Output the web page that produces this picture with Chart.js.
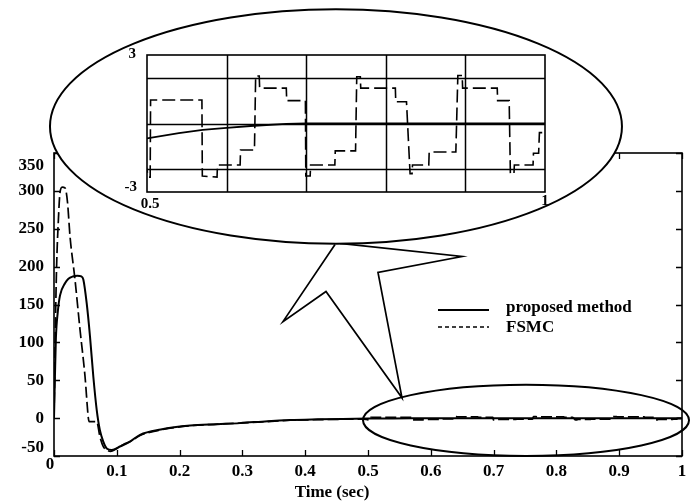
<!DOCTYPE html>
<html>
<head>
<meta charset="utf-8">
<script src="https://cdn.jsdelivr.net/npm/chart.js@4/dist/chart.umd.min.js"></script>
<style>
  html, body { margin: 0; padding: 0; background: #fff; }
  #wrap { position: relative; width: 696px; height: 501px; overflow: hidden; }
  #main { position: absolute; left: 0; top: 0; }
  #zoom { position: absolute; left: 110px; top: 35px; }
</style>
</head>
<body>
<div id="wrap">
  <canvas id="main" width="696" height="501"></canvas>
  <canvas id="zoom" width="450" height="185"></canvas>
</div>
<script>
// ---- series: time (s) and controller output ----
const timeProposed = [0, 0.0015, 0.003, 0.006, 0.0096, 0.0175, 0.023, 0.03, 0.037, 0.0435, 0.0467,
  0.052, 0.0573, 0.0626, 0.068, 0.073, 0.0785, 0.084, 0.092, 0.105, 0.121,
  0.137, 0.17, 0.217, 0.26, 0.296, 0.34, 0.376, 0.42, 0.46, 0.5,
  0.54, 0.57, 0.6, 0.63, 0.675, 0.7, 0.8, 0.9, 1.0];
const proposed = [0, 55, 105, 140, 162, 178, 184, 187, 188, 187, 183,
  152, 108, 55, 11, -15.5, -31, -40, -42, -37.5, -31,
  -22, -15, -9.8, -8, -6.6, -4, -2.5, -1.6, -1.0, -0.65,
  -0.42, -0.28, -0.19, -0.11, -0.02, 0, 0, 0, 0];

const timeFsmc = [0, 0.002, 0.004, 0.007, 0.0096, 0.013, 0.0175, 0.0215, 0.0255, 0.0334,
  0.0414, 0.0494, 0.0547, 0.056, 0.068, 0.073, 0.0785, 0.084, 0.09, 0.1,
  0.11, 0.121, 0.137, 0.17, 0.217, 0.26, 0.296, 0.34, 0.376, 0.42,
  0.46, 0.49, 0.497, 0.502, 0.504, 0.5045, 0.569, 0.5695, 0.588, 0.5885,
  0.617, 0.6175, 0.635, 0.6365, 0.641, 0.6415, 0.675, 0.6755, 0.699, 0.6995,
  0.705, 0.7055, 0.736, 0.7365, 0.762, 0.7635, 0.768, 0.7685, 0.812, 0.8125,
  0.826, 0.8305, 0.833, 0.8335, 0.854, 0.8545, 0.888, 0.8905, 0.896, 0.8965,
  0.94, 0.9405, 0.955, 0.9565, 0.961, 0.9615, 0.985, 0.9855, 0.992, 0.993,
  1.0];
const fsmc = [0, 110, 196, 262, 298, 305, 304, 285, 240, 183,
  117, 55, 0, -4.5, -4.5, -24, -37.6, -42, -44, -40,
  -35, -31, -23, -15.5, -10, -8, -6.6, -4.5, -2.8, -2,
  -1.5, -1.2, -1.6, -2.35, -2.35, 1.03, 1.03, -2.3, -2.35, -1.82,
  -1.82, -1.16, -1.16, 2.08, 2.08, 1.55, 1.55, 1.0, 1.0, -2.3,
  -2.3, -1.82, -1.82, -1.2, -1.2, 2.05, 2.05, 1.55, 1.55, 0.95,
  0.95, -2.2, -2.2, -1.82, -1.82, -1.25, -1.25, 2.1, 2.1, 1.55,
  1.55, 1.0, 1.0, -2.2, -2.2, -1.82, -1.82, -1.3, -1.3, -0.4,
  -0.4];

// ---- axis ticks ----
const yTicks = [-50, 0, 50, 100, 150, 200, 250, 300, 350];
const xTicks = [0, 0.1, 0.2, 0.3, 0.4, 0.5, 0.6, 0.7, 0.8, 0.9, 1];
const xTickLabels = ['0', '0.1', '0.2', '0.3', '0.4', '0.5', '0.6', '0.7', '0.8', '0.9', '1'];
const zoomYGrid = [-2, 0, 2];
const zoomXGrid = [0.6, 0.7, 0.8, 0.9];
const legendLabels = ['proposed method', 'FSMC'];

const SERIF = '"Liberation Serif", "Times New Roman", serif';
Chart.defaults.font.family = SERIF;

function toPoints(xs, ys) { return xs.map((x, i) => ({ x, y: ys[i] })); }

// callout geometry, in (time, value) units of the main axes
const bigOval = { t: 0.449, v: 385, rt: 0.4554, rv: 154.8 };
const smallOval = { t: 0.7516, v: -2.9, rt: 0.2596, rv: 47 };
const pointer = [[0.4475, 229.2], [0.3646, 127.4], [0.4331, 167.1], [0.5541, 26.9],
                 [0.5159, 192.2], [0.6497, 213.4], [0.4554, 230.6]];

function ovalPath(ctx, x, y, o) {
  const cx = x.getPixelForValue(o.t), cy = y.getPixelForValue(o.v);
  const rx = x.getPixelForValue(o.t + o.rt) - cx;
  const ry = cy - y.getPixelForValue(o.v + o.rv);
  ctx.beginPath();
  ctx.ellipse(cx, cy, rx, ry, 0, 0, Math.PI * 2);
}

const paperFrame = {
  id: 'paperFrame',
  afterDatasetsDraw(chart) {
    const { ctx, chartArea: a, scales: { x, y } } = chart;
    ctx.save();
    ctx.strokeStyle = '#000';
    ctx.fillStyle = '#000';
    ctx.lineCap = 'butt';

    // axes box with inward ticks
    ctx.lineWidth = 1.6;
    ctx.strokeRect(a.left, a.top, a.right - a.left, a.bottom - a.top);
    ctx.lineWidth = 1.3;
    ctx.beginPath();
    yTicks.forEach(v => {
      const py = Math.round(y.getPixelForValue(v)) + 0.5;
      ctx.moveTo(a.left, py); ctx.lineTo(a.left + 6, py);
      ctx.moveTo(a.right, py); ctx.lineTo(a.right - 6, py);
    });
    xTicks.forEach(t => {
      const px = Math.round(x.getPixelForValue(t)) + 0.5;
      ctx.moveTo(px, a.bottom); ctx.lineTo(px, a.bottom - 6);
      ctx.moveTo(px, a.top); ctx.lineTo(px, a.top + 6);
    });
    ctx.stroke();

    // small oval around the settled part of the response
    ctx.lineWidth = 2;
    ovalPath(ctx, x, y, smallOval);
    ctx.stroke();

    // pointer from the small oval up to the magnified view
    ctx.lineWidth = 1.7;
    ctx.lineJoin = 'miter';
    ctx.beginPath();
    pointer.forEach(([t, v], i) => {
      const px = x.getPixelForValue(t), py = y.getPixelForValue(v);
      if (i === 0) ctx.moveTo(px, py); else ctx.lineTo(px, py);
    });
    ctx.stroke();

    // large oval holding the magnified view
    ovalPath(ctx, x, y, bigOval);
    ctx.fillStyle = '#fff';
    ctx.fill();
    ctx.lineWidth = 2;
    ctx.stroke();
    ctx.fillStyle = '#000';

    // tick labels
    ctx.font = 'bold 17px ' + SERIF;
    ctx.textAlign = 'right';
    ctx.textBaseline = 'middle';
    yTicks.forEach(v => {
      let py = y.getPixelForValue(v);
      if (v === 350) py += 13;
      if (v === -50) py -= 8;
      ctx.fillText(String(v), a.left - 10, py);
    });
    ctx.textAlign = 'center';
    xTicks.forEach((t, i) => {
      let px = x.getPixelForValue(t), py = a.bottom + 16;
      if (i === 0) { px -= 4; py -= 7; }
      ctx.fillText(xTickLabels[i], px, py);
    });
    ctx.fillText('Time (sec)', a.left + 278, a.bottom + 37);

    // legend
    ctx.lineWidth = 2;
    ctx.beginPath();
    ctx.moveTo(a.left + 384, a.top + 157); ctx.lineTo(a.left + 435, a.top + 157);
    ctx.stroke();
    ctx.lineWidth = 1.4;
    ctx.setLineDash([4, 3]);
    ctx.beginPath();
    ctx.moveTo(a.left + 384, a.top + 174); ctx.lineTo(a.left + 435, a.top + 174);
    ctx.stroke();
    ctx.setLineDash([]);
    ctx.textAlign = 'left';
    ctx.font = 'bold 17px ' + SERIF;
    ctx.fillText(legendLabels[0], a.left + 452, a.top + 155);
    ctx.fillText(legendLabels[1], a.left + 452, a.top + 175);
    ctx.restore();
  }
};

new Chart(document.getElementById('main'), {
  type: 'line',
  data: {
    datasets: [
      { label: legendLabels[0], data: toPoints(timeProposed, proposed), borderColor: '#000',
        borderWidth: 2, pointRadius: 0, cubicInterpolationMode: 'monotone', fill: false },
      { label: legendLabels[1], data: toPoints(timeFsmc, fsmc), borderColor: '#000',
        borderWidth: 1.7, borderDash: [11, 4], pointRadius: 0, cubicInterpolationMode: 'monotone', fill: false }
    ]
  },
  options: {
    responsive: false, animation: false, devicePixelRatio: 1,
    layout: { padding: { left: 54, right: 14, top: 153, bottom: 45 } },
    plugins: { legend: { display: false }, tooltip: { enabled: false } },
    scales: {
      x: { type: 'linear', min: 0, max: 1, display: false },
      y: { type: 'linear', min: -50, max: 350, display: false }
    }
  },
  plugins: [paperFrame]
});

// ---- magnified view, 0.5 s to 1 s ----
const zoomFrame = {
  id: 'zoomFrame',
  beforeDatasetsDraw(chart) {
    const { ctx, chartArea: a, scales: { x, y } } = chart;
    ctx.save();
    ctx.strokeStyle = '#000';
    ctx.lineWidth = 1.5;
    ctx.beginPath();
    zoomXGrid.forEach(t => {
      const px = Math.round(x.getPixelForValue(t)) + 0.5;
      ctx.moveTo(px, a.top); ctx.lineTo(px, a.bottom);
    });
    zoomYGrid.forEach(v => {
      const py = Math.round(y.getPixelForValue(v)) + 0.5;
      ctx.moveTo(a.left, py); ctx.lineTo(a.right, py);
    });
    ctx.stroke();
    ctx.lineWidth = 1.6;
    ctx.strokeRect(a.left, a.top, a.right - a.left, a.bottom - a.top);
    ctx.restore();
  },
  afterDraw(chart) {
    const { ctx, chartArea: a, scales: { x, y } } = chart;
    ctx.save();
    ctx.fillStyle = '#000';
    ctx.font = 'bold 15px ' + SERIF;
    ctx.textBaseline = 'middle';
    ctx.textAlign = 'right';
    ctx.fillText('3', a.left - 11, y.getPixelForValue(3) - 1);
    ctx.fillText('-3', a.left - 10, y.getPixelForValue(-3) - 5);
    ctx.textAlign = 'center';
    ctx.fillText('0.5', x.getPixelForValue(0.5) + 3, a.bottom + 12);
    ctx.fillText('1', x.getPixelForValue(1), a.bottom + 9);
    ctx.restore();
  }
};

new Chart(document.getElementById('zoom'), {
  type: 'line',
  data: {
    datasets: [
      { data: toPoints(timeProposed, proposed), borderColor: '#000', borderWidth: 1.8,
        pointRadius: 0, tension: 0, fill: false },
      { data: toPoints(timeFsmc, fsmc), borderColor: '#000', borderWidth: 1.6,
        borderDash: [13, 5], pointRadius: 0, tension: 0, fill: false }
    ]
  },
  options: {
    responsive: false, animation: false, devicePixelRatio: 1,
    layout: { padding: { left: 37, right: 15, top: 20, bottom: 28 } },
    plugins: { legend: { display: false }, tooltip: { enabled: false } },
    scales: {
      x: { type: 'linear', min: 0.5, max: 1, display: false },
      y: { type: 'linear', min: -3, max: 3, display: false }
    }
  },
  plugins: [zoomFrame]
});
</script>
</body>
</html>
